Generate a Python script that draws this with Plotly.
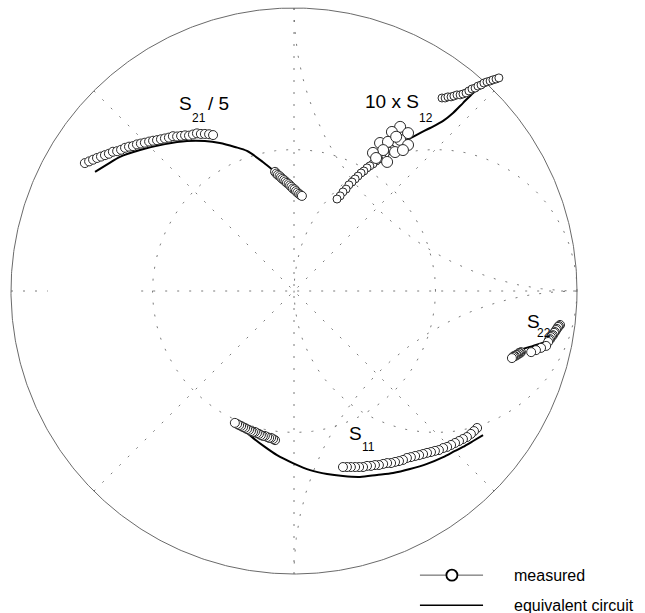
import numpy as np
import plotly.graph_objects as go

# ---------------------------------------------------------------
# S-parameters in the complex plane (normalised, |r| = 1 is the rim)
# ---------------------------------------------------------------

# S21 / 5 : measured (high-frequency arc, then low-frequency cluster)
s21_meas_re = [-0.739, -0.724, -0.710, -0.696, -0.682, -0.668, -0.654, -0.640, -0.625, -0.611,
               -0.597, -0.583, -0.569, -0.555, -0.541, -0.527, -0.512, -0.498, -0.484, -0.470,
               -0.456, -0.442, -0.428, -0.413, -0.399, -0.385, -0.371, -0.357, -0.343, -0.329,
               -0.315, -0.300, -0.286,
               -0.067, -0.062, -0.057, -0.051, -0.046, -0.041, -0.035, -0.030, -0.025, -0.019,
               -0.014, -0.009, -0.004, 0.002, 0.007, 0.012, 0.018, 0.023, 0.028]
s21_meas_im = [0.452, 0.458, 0.464, 0.470, 0.475, 0.480, 0.485, 0.492, 0.494, 0.499,
               0.506, 0.510, 0.512, 0.518, 0.521, 0.524, 0.528, 0.531, 0.533, 0.536,
               0.539, 0.542, 0.547, 0.546, 0.548, 0.550, 0.549, 0.553, 0.557, 0.555,
               0.555, 0.554, 0.551,
               0.421, 0.415, 0.410, 0.406, 0.401, 0.396, 0.392, 0.387, 0.382, 0.378,
               0.373, 0.368, 0.362, 0.359, 0.353, 0.348, 0.343, 0.339, 0.336]
# S21 / 5 : equivalent circuit
s21_fit_re = [-0.703, -0.657, -0.615, -0.544, -0.456, -0.378, -0.315, -0.262, -0.209, -0.166,
              -0.110, -0.067, -0.014, 0.028]
s21_fit_im = [0.421, 0.449, 0.474, 0.498, 0.519, 0.530, 0.530, 0.523, 0.509, 0.495,
              0.456, 0.421, 0.375, 0.336]

# 10 x S12 : measured
s12_meas_re = [0.343, 0.333, 0.322, 0.311, 0.300, 0.290, 0.279, 0.268, 0.258, 0.247,
               0.237, 0.226, 0.216, 0.205, 0.194, 0.184, 0.173, 0.163, 0.152,
               0.523, 0.534, 0.544, 0.555, 0.565, 0.576, 0.587, 0.597, 0.608, 0.618,
               0.629, 0.640, 0.650, 0.661, 0.671, 0.682, 0.693, 0.703, 0.714, 0.724]
s12_meas_im = [0.502, 0.495, 0.484, 0.474, 0.466, 0.459, 0.449, 0.442, 0.435, 0.424,
               0.417, 0.406, 0.396, 0.385, 0.375, 0.360, 0.350, 0.336, 0.325,
               0.682, 0.682, 0.686, 0.686, 0.689, 0.693, 0.693, 0.696, 0.700, 0.707,
               0.714, 0.717, 0.724, 0.728, 0.735, 0.739, 0.742, 0.746, 0.749, 0.753]
# 10 x S12 : scattered points in the resonance region
s12_spread_re = [0.375, 0.346, 0.403, 0.304, 0.332, 0.375, 0.403, 0.315, 0.357, 0.329,
                 0.279, 0.385, 0.290, 0.361]
s12_spread_im = [0.580, 0.562, 0.558, 0.523, 0.527, 0.534, 0.516, 0.498, 0.491, 0.456,
                 0.488, 0.498, 0.470, 0.545]
# 10 x S12 : equivalent circuit
s12_fit_re = [0.392, 0.445, 0.481, 0.527, 0.562, 0.597, 0.633, 0.668, 0.700]
s12_fit_im = [0.530, 0.558, 0.576, 0.601, 0.629, 0.664, 0.700, 0.728, 0.746]

# S22 : measured
s22_meas_re = [0.940, 0.936, 0.933, 0.929, 0.926, 0.922, 0.919, 0.915, 0.912, 0.908,
               0.905, 0.901, 0.898,
               0.891, 0.873, 0.855, 0.838,
               0.802, 0.799, 0.795, 0.792, 0.788, 0.785, 0.781, 0.777, 0.774, 0.770]
s22_meas_im = [-0.120, -0.124, -0.127, -0.134, -0.138, -0.145, -0.148, -0.156, -0.159, -0.163,
               -0.170, -0.173, -0.180,
               -0.194, -0.201, -0.209, -0.216,
               -0.216, -0.219, -0.219, -0.223, -0.226, -0.226, -0.230, -0.230, -0.233, -0.237]
# S22 : equivalent circuit
s22_fit_re = [0.774, 0.809, 0.845, 0.887, 0.912, 0.933]
s22_fit_im = [-0.226, -0.205, -0.194, -0.180, -0.163, -0.127]

# S11 : measured
s11_meas_re = [0.647, 0.636, 0.625, 0.611, 0.597, 0.583, 0.569, 0.555, 0.541, 0.527,
               0.512, 0.498, 0.484, 0.470, 0.456, 0.442, 0.428, 0.413, 0.399, 0.385,
               0.371, 0.357, 0.343, 0.329, 0.315, 0.300, 0.286, 0.272, 0.258, 0.244,
               0.230, 0.216, 0.201, 0.187, 0.173,
               -0.067, -0.074, -0.081, -0.088, -0.095, -0.103, -0.110, -0.117, -0.124, -0.131,
               -0.138, -0.145, -0.152, -0.159, -0.166, -0.173, -0.180, -0.187, -0.194, -0.201,
               -0.209]
s11_meas_im = [-0.484, -0.495, -0.505, -0.516, -0.523, -0.530, -0.537, -0.544, -0.551, -0.555,
               -0.562, -0.565, -0.569, -0.572, -0.576, -0.580, -0.583, -0.587, -0.590, -0.597,
               -0.601, -0.604, -0.608, -0.608, -0.611, -0.615, -0.615, -0.618, -0.618, -0.622,
               -0.622, -0.622, -0.622, -0.622, -0.622,
               -0.527, -0.523, -0.519, -0.519, -0.516, -0.512, -0.512, -0.509, -0.505, -0.502,
               -0.498, -0.498, -0.495, -0.491, -0.488, -0.484, -0.481, -0.477, -0.474, -0.470,
               -0.466]
# S11 : equivalent circuit
s11_fit_re = [-0.173, -0.145, -0.103, -0.060, -0.004, 0.057, 0.117, 0.173, 0.233, 0.293,
              0.350, 0.410, 0.470, 0.527, 0.569, 0.597, 0.633, 0.668]
s11_fit_im = [-0.495, -0.519, -0.551, -0.580, -0.608, -0.633, -0.647, -0.654, -0.657, -0.650,
              -0.643, -0.629, -0.611, -0.587, -0.565, -0.551, -0.530, -0.509]

# chart grid: |G| circle, phase lines, Smith r = 1 circle and x = +/-1 arcs
mag_circles = [0.5]
phase_lines_deg = [45, 90, 135]
real_axis_segments = [(-1.0, -0.87), (-0.54, 1.0)]
smith_r = [1.0]
smith_x = [1.0, -1.0]

# curve labels: (text, left edge, vertical centre, font size)
labels = [
    ("S", -0.413, 0.661, 19), ("21", -0.367, 0.612, 12), ("/ 5", -0.311, 0.661, 19),
    ("10 x S", 0.244, 0.668, 19), ("12", 0.435, 0.612, 12),
    ("S", 0.816, -0.106, 19), ("22", 0.852, -0.148, 12),
    ("S", 0.187, -0.502, 19), ("11", 0.233, -0.552, 12),
]

FONT = "Liberation Sans, Arial, Helvetica, sans-serif"
GRID = "#7a7a7a"
DOTS = "2px,10px"

fig = go.Figure()


def grid_curve(x, y):
    fig.add_trace(go.Scatter(x=x, y=y, mode="lines",
                             line=dict(color=GRID, width=1, dash=DOTS),
                             hoverinfo="skip", showlegend=False))


# ---- grid ----------------------------------------------------
t = np.linspace(0, 2 * np.pi, 721)
for r in mag_circles:
    grid_curve(r * np.cos(t), r * np.sin(t))
for a in phase_lines_deg:
    ar = np.deg2rad(a)
    grid_curve([-np.cos(ar), np.cos(ar)], [-np.sin(ar), np.sin(ar)])
for x0, x1 in real_axis_segments:
    grid_curve([x0, x1], [0, 0])
for r in smith_r:
    c, rad = r / (1 + r), 1 / (1 + r)
    grid_curve(c + rad * np.cos(t), rad * np.sin(t))
for xr in smith_x:
    rad = 1 / abs(xr)
    if xr > 0:
        ph = np.linspace(np.pi, 1.5 * np.pi, 200)
    else:
        ph = np.linspace(0.5 * np.pi, np.pi, 200)
    grid_curve(1 + rad * np.cos(ph), (1 / xr) + rad * np.sin(ph))
# outer rim
fig.add_trace(go.Scatter(x=np.cos(t), y=np.sin(t), mode="lines",
                         line=dict(color="#6a6a6a", width=1),
                         hoverinfo="skip", showlegend=False))

# ---- curves --------------------------------------------------
def fit_line(re, im):
    fig.add_trace(go.Scatter(x=re, y=im, mode="lines",
                             line=dict(color="black", width=2, shape="spline", smoothing=0.8),
                             hoverinfo="skip", showlegend=False))


def meas(re, im, size=9, edge="#2a2a2a"):
    fig.add_trace(go.Scatter(x=re, y=im, mode="markers",
                             marker=dict(symbol="circle", size=size, color="white",
                                         line=dict(color=edge, width=1)),
                             hoverinfo="skip", showlegend=False))


fit_line(s21_fit_re, s21_fit_im)
meas(s21_meas_re, s21_meas_im)

fit_line(s12_fit_re, s12_fit_im)
meas(s12_meas_re, s12_meas_im, size=8)
meas(s12_spread_re, s12_spread_im, size=11)

fit_line(s22_fit_re, s22_fit_im)
meas(s22_meas_re, s22_meas_im)

fit_line(s11_fit_re, s11_fit_im)
meas(s11_meas_re, s11_meas_im)

# ---- labels --------------------------------------------------
for txt, x0, y0, fs in labels:
    fig.add_annotation(x=x0, y=y0, xref="x", yref="y", text=txt, showarrow=False,
                       xanchor="left", yanchor="middle",
                       font=dict(family=FONT, size=fs, color="black"))

# ---- legend (drawn in data space, lower right) ---------------
leg_x0, leg_x1, leg_mark, leg_text = 0.445, 0.668, 0.558, 0.770
leg_y = [-1.004, -1.110]
fig.add_trace(go.Scatter(x=[leg_x0, leg_x1], y=[leg_y[0]] * 2, mode="lines",
                         line=dict(color="#555", width=1), hoverinfo="skip", showlegend=False))
fig.add_trace(go.Scatter(x=[leg_mark], y=[leg_y[0]], mode="markers",
                         marker=dict(symbol="circle", size=11, color="white",
                                     line=dict(color="black", width=1.8)),
                         hoverinfo="skip", showlegend=False))
fig.add_trace(go.Scatter(x=[leg_x0, leg_x1], y=[leg_y[1]] * 2, mode="lines",
                         line=dict(color="black", width=1.5), hoverinfo="skip", showlegend=False))
for name, yy in zip(["measured", "equivalent circuit"], leg_y):
    fig.add_annotation(x=leg_text, y=yy, xref="x", yref="y", text=name, showarrow=False,
                       xanchor="left", yanchor="middle",
                       font=dict(family=FONT, size=16, color="black"))

fig.update_layout(
    width=645, height=613,
    margin=dict(l=0, r=0, t=0, b=0),
    paper_bgcolor="white", plot_bgcolor="white",
    xaxis=dict(range=[-1.03887, 1.24028], visible=False, fixedrange=True),
    yaxis=dict(range=[-1.13781, 1.02827], visible=False, fixedrange=True),
    showlegend=False,
)

fig.write_html("out.html")
